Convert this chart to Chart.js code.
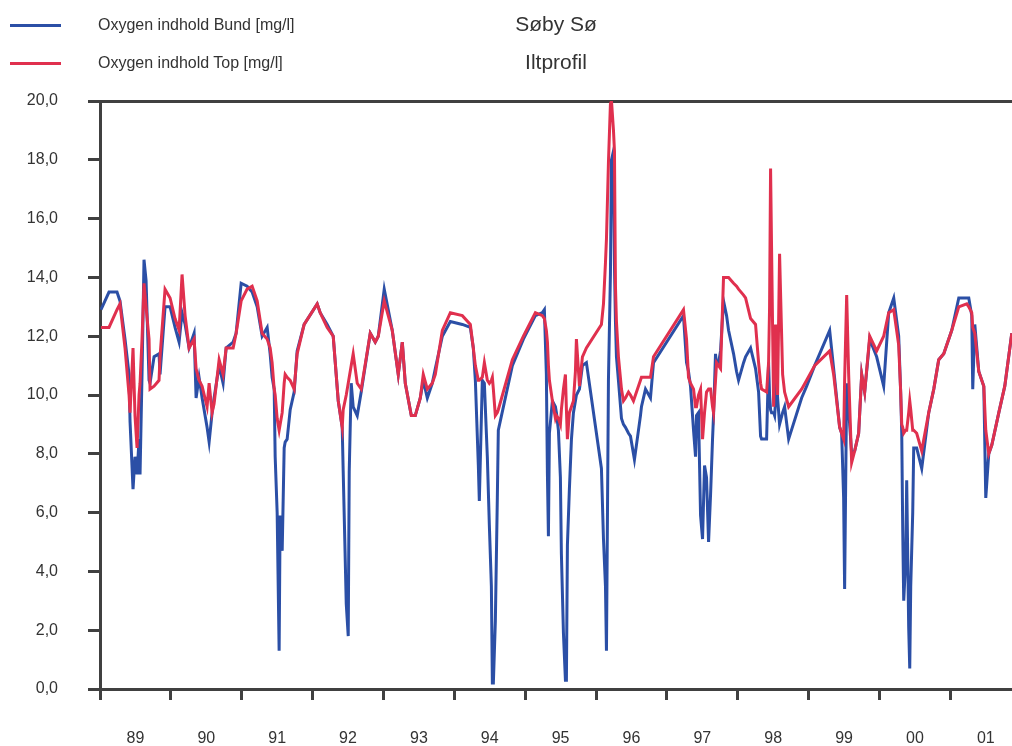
<!DOCTYPE html>
<html><head><meta charset="utf-8">
<script src="https://cdn.jsdelivr.net/npm/chart.js@4/dist/chart.umd.min.js"></script>
<style>
html,body{margin:0;padding:0;background:#fff;}
#wrap{position:relative;width:1012px;height:746px;overflow:hidden;font-family:"Liberation Sans",Arial,sans-serif;color:#333;}
canvas{position:absolute;left:0;top:0;}
.leg{position:absolute;left:10px;width:51px;height:3px;}
.legtxt{position:absolute;left:98px;font-size:16px;line-height:18px;white-space:nowrap;}
.ttl{position:absolute;left:406px;width:300px;text-align:center;font-size:21px;line-height:24px;color:#333;}
</style></head>
<body><div id="wrap">
<canvas id="c" width="1012" height="746"></canvas>
<div class="leg" style="top:24px;background:#2B4FA6"></div>
<div class="legtxt" style="top:16px">Oxygen indhold Bund [mg/l]</div>
<div class="leg" style="top:62px;background:#E0304E"></div>
<div class="legtxt" style="top:54px">Oxygen indhold Top [mg/l]</div>
<div class="ttl" style="top:12px">Søby Sø</div>
<div class="ttl" style="top:50px">Iltprofil</div>
</div>
<script>
// Sampling dates (decimal years)
const dates = [
1989.014,1989.127,1989.240,1989.282,1989.353,1989.410,1989.424,1989.466,1989.494,1989.523,
1989.551,1989.565,1989.593,1989.621,1989.650,1989.692,1989.706,1989.763,1989.833,1989.847,
1989.918,1989.989,1990.059,1990.116,1990.158,1990.201,1990.257,1990.328,1990.356,1990.398,
1990.441,1990.511,1990.540,1990.582,1990.610,1990.681,1990.737,1990.780,1990.879,1990.921,
1990.992,1991.076,1991.147,1991.218,1991.288,1991.359,1991.401,1991.429,1991.458,1991.472,
1991.500,1991.528,1991.542,1991.571,1991.599,1991.613,1991.641,1991.684,1991.740,1991.782,
1991.881,1992.065,1992.107,1992.206,1992.291,1992.362,1992.418,1992.432,1992.475,1992.503,
1992.517,1992.545,1992.573,1992.630,1992.686,1992.814,1992.884,1992.927,1993.011,1993.124,
1993.209,1993.266,1993.308,1993.393,1993.449,1993.520,1993.562,1993.619,1993.689,1993.732,
1993.831,1993.944,1994.113,1994.226,1994.268,1994.297,1994.339,1994.353,1994.395,1994.424,
1994.466,1994.494,1994.523,1994.537,1994.551,1994.579,1994.607,1994.621,1994.819,1994.975,
1995.144,1995.243,1995.271,1995.299,1995.314,1995.328,1995.342,1995.384,1995.427,1995.441,
1995.469,1995.497,1995.511,1995.540,1995.568,1995.582,1995.596,1995.624,1995.653,1995.681,
1995.709,1995.723,1995.766,1995.808,1995.864,1996.076,1996.105,1996.133,1996.147,1996.175,
1996.203,1996.218,1996.246,1996.260,1996.274,1996.288,1996.316,1996.359,1996.387,1996.415,
1996.458,1996.486,1996.528,1996.542,1996.627,1996.641,1996.698,1996.768,1996.811,1997.234,
1997.277,1997.305,1997.333,1997.376,1997.404,1997.418,1997.446,1997.475,1997.503,1997.531,
1997.559,1997.588,1997.616,1997.644,1997.658,1997.686,1997.701,1997.729,1997.757,1997.799,
1997.842,1997.870,1997.941,1997.983,1998.011,1998.082,1998.110,1998.181,1998.251,1998.294,
1998.322,1998.336,1998.407,1998.435,1998.449,1998.463,1998.477,1998.506,1998.520,1998.534,
1998.548,1998.562,1998.590,1998.633,1998.661,1998.718,1998.901,1998.972,1999.085,1999.297,
1999.353,1999.438,1999.466,1999.494,1999.508,1999.537,1999.565,1999.607,1999.650,1999.706,
1999.749,1999.791,1999.862,1999.960,2000.059,2000.130,2000.201,2000.271,2000.299,2000.314,
2000.328,2000.342,2000.370,2000.384,2000.412,2000.427,2000.441,2000.469,2000.483,2000.525,
2000.596,2000.695,2000.766,2000.836,2000.907,2001.020,2001.119,2001.232,2001.260,2001.302,
2001.316,2001.345,2001.401,2001.472,2001.500,2001.542,2001.585,2001.684,2001.768,2001.867
];
// Oxygen indhold Bund [mg/l]
const bund = [
12.9,13.5,13.5,13.2,11.9,10.7,9.1,6.8,7.9,7.3,
8.5,7.3,10.7,14.6,13.9,10.5,10.4,11.3,11.4,10.7,
13.0,13.0,12.3,11.8,12.8,12.4,11.6,12.1,9.9,10.6,
9.9,8.9,8.4,9.4,9.9,11.0,10.4,11.6,11.8,12.1,
13.8,13.7,13.5,13.0,12.0,12.3,11.4,10.6,10.2,7.9,
6.0,1.3,5.9,4.7,8.2,8.4,8.5,9.5,10.1,11.5,
12.4,13.1,12.8,12.4,12.0,9.8,8.9,7.4,2.9,1.8,
7.4,10.4,9.6,9.3,10.1,12.1,11.8,12.0,13.6,12.2,
10.7,11.8,10.4,9.3,9.3,9.9,10.5,9.9,10.4,10.9,
12.0,12.5,12.4,12.3,11.6,10.5,7.6,6.4,10.5,10.4,
7.9,5.6,3.5,0.2,0.2,2.3,6.5,8.8,11.0,11.9,
12.7,12.8,12.9,10.7,7.3,5.2,8.7,9.8,9.6,9.4,
8.8,7.2,4.6,1.9,0.3,0.3,4.9,6.8,8.5,9.4,
9.8,10.0,10.2,11.0,11.1,7.5,5.1,3.5,1.3,10.5,
14.1,18.0,18.3,14.4,12.5,11.3,10.5,9.2,9.0,8.9,
8.7,8.6,8.0,7.8,9.3,9.6,10.2,9.9,11.1,12.7,
11.1,10.8,10.3,8.8,7.9,9.3,9.4,5.9,5.1,7.6,
7.2,5.0,6.6,8.5,9.3,11.4,11.0,11.1,11.5,13.2,
12.7,12.2,11.4,10.8,10.5,11.1,11.3,11.6,10.9,10.1,
8.6,8.5,8.5,11.1,10.0,9.5,9.4,9.4,9.3,9.8,
11.1,9.9,9.0,9.4,9.6,8.5,9.9,10.3,11.0,12.2,
10.9,8.9,8.7,6.5,3.4,10.4,9.5,8.0,8.1,8.7,
10.7,10.1,11.9,11.3,10.3,12.8,13.3,12.0,10.1,8.7,
5.4,3.0,4.4,7.1,2.1,0.7,3.5,6.0,8.2,8.2,
7.5,9.4,10.2,11.2,11.4,12.2,13.3,13.3,13.3,12.7,
10.2,12.4,10.8,10.3,6.5,8.0,8.3,9.4,10.3,12.1
];
// Oxygen indhold Top [mg/l]
const top_ = [
12.3,12.3,12.9,13.1,11.6,10.0,9.4,11.6,9.3,8.2,
10.0,10.4,11.9,13.8,13.0,11.9,10.2,10.3,10.5,11.3,
13.6,13.3,12.6,12.2,14.1,12.7,11.6,11.9,10.9,10.5,
10.3,9.6,10.4,9.4,9.7,11.2,10.7,11.6,11.6,12.1,
13.2,13.6,13.7,13.2,12.1,11.9,11.6,11.1,10.2,10.0,
9.2,8.8,9.0,9.4,10.4,10.7,10.6,10.5,10.2,11.4,
12.4,13.1,12.8,12.3,12.0,9.8,8.9,9.5,10.0,10.4,
10.6,11.0,11.4,10.4,10.2,12.1,11.8,12.0,13.2,12.2,
10.7,11.8,10.4,9.3,9.3,9.9,10.7,10.2,10.4,10.7,
12.2,12.8,12.7,12.4,11.6,11.0,10.5,10.5,10.6,11.1,
10.5,10.4,10.5,10.6,10.2,9.3,9.4,9.5,11.2,12.0,
12.8,12.7,12.6,12.2,11.8,11.0,10.5,9.8,9.2,9.3,
9.2,9.0,9.5,10.2,10.7,9.5,8.5,9.4,9.6,9.8,
10.8,11.9,10.3,11.3,11.6,12.4,13.1,14.5,15.3,17.9,
19.9,20.0,19.0,18.3,13.7,12.5,11.3,10.2,9.8,9.9,
10.1,10.0,9.8,9.9,10.5,10.6,10.6,10.6,11.3,12.9,
11.9,10.6,10.4,10.2,9.6,9.6,10.0,10.2,8.5,9.4,
10.1,10.2,10.2,9.6,9.4,10.5,11.1,11.0,10.9,14.0,
14.0,14.0,13.8,13.7,13.6,13.4,13.3,12.6,12.4,11.1,
10.4,10.2,10.1,11.1,13.0,17.7,15.0,9.6,11.0,12.4,
11.1,10.0,14.8,10.7,10.1,9.6,10.2,10.5,11.0,11.5,
10.7,8.9,8.7,8.5,10.5,13.4,10.7,7.7,8.1,8.7,
10.7,10.1,12.0,11.5,12.0,12.8,12.9,11.7,10.1,9.0,
8.9,8.7,8.8,8.8,9.4,9.8,9.5,8.8,8.8,8.7,
8.1,9.4,10.2,11.2,11.4,12.2,13.0,13.1,13.0,12.8,
12.3,12.1,10.8,10.3,8.8,8.0,8.3,9.4,10.3,12.1
];
// Axis ticks
const yearTicks = [1989,1990,1991,1992,1993,1994,1995,1996,1997,1998,1999,2000,2001];
const yearLabelPos = [1989.5,1990.5,1991.5,1992.5,1993.5,1994.5,1995.5,1996.5,1997.5,1998.5,1999.5,2000.5,2001.5];
const yearLabels = ['89','90','91','92','93','94','95','96','97','98','99','00','01'];
const yTicks = [0,2,4,6,8,10,12,14,16,18,20];

const AX = '#404040';
const FONT = {family:'"Liberation Sans", Arial, sans-serif', size:16};
const pts = arr => dates.map((d,i)=>({x:d, y:arr[i]}));

new Chart(document.getElementById('c'), {
  type:'line',
  data:{datasets:[
    {label:'Oxygen indhold Bund [mg/l]', data:pts(bund), borderColor:'#2B4FA6', backgroundColor:'#2B4FA6', borderWidth:3, pointRadius:0, tension:0, order:1},
    {label:'Oxygen indhold Top [mg/l]', data:pts(top_), borderColor:'#E0304E', backgroundColor:'#E0304E', borderWidth:3, pointRadius:0, tension:0, order:0}
  ]},
  options:{
    responsive:false, animation:false,
    layout:{padding:{top:101,left:0,right:0,bottom:0}},
    plugins:{legend:{display:false}, tooltip:{enabled:false}, title:{display:false}},
    scales:{
      x:{type:'linear', min:1989, max:2001.87,
        afterBuildTicks: s => { s.ticks = yearTicks.concat(yearLabelPos).sort((a,b)=>a-b).map(v=>({value:v})); },
        afterFit: s => { s.height = 57; s.paddingLeft = 0; s.paddingRight = 0; },
        ticks:{autoSkip:false, maxRotation:0, minRotation:0, padding:29, font:FONT, color:'#333',
          callback: v => { const i = yearLabelPos.indexOf(v); return i>=0 ? yearLabels[i] : ''; }},
        grid:{drawOnChartArea:false, drawTicks:true, tickLength:11, tickWidth:3, lineWidth:3,
          tickColor: c => (c.tick && Number.isInteger(c.tick.value)) ? AX : 'rgba(0,0,0,0)'},
        border:{display:true, color:AX, width:3}
      },
      y:{type:'linear', min:0, max:20,
        afterBuildTicks: s => { s.ticks = yTicks.map(v=>({value:v})); },
        afterFit: s => { s.width = 100; s.paddingTop = 0; s.paddingBottom = 0; },
        ticks:{padding:30, font:FONT, color:'#333', callback: v => v.toFixed(1).replace('.', ',')},
        grid:{drawOnChartArea:true, drawTicks:true, tickLength:12, tickWidth:3, lineWidth:3, tickColor:AX,
          color: c => (c.tick && c.tick.value === 20) ? AX : 'rgba(0,0,0,0)'},
        border:{display:true, color:AX, width:3}
      }
    }
  }
});
</script>
</body></html>
